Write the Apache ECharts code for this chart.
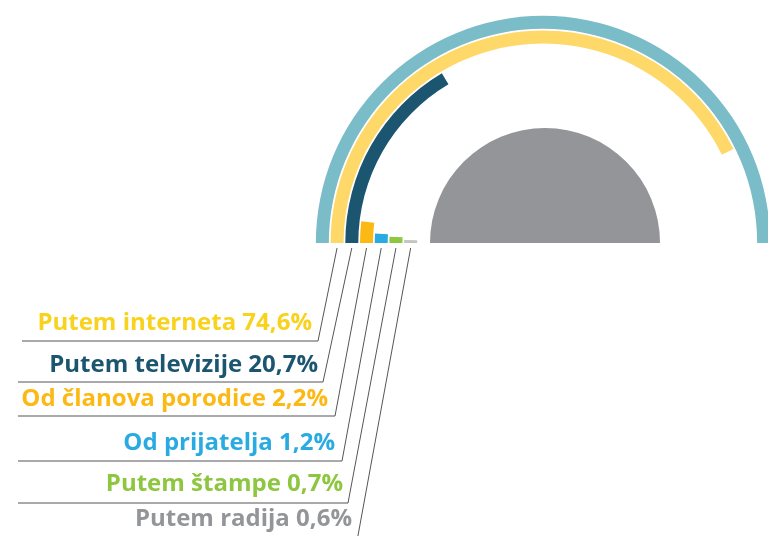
<!DOCTYPE html>
<html>
<head>
<meta charset="utf-8">
<script src="https://cdn.jsdelivr.net/npm/echarts@6/dist/echarts.min.js"></script>
<style>
  html, body { margin: 0; padding: 0; background: #fff; }
  #chart { width: 768px; height: 536px; }
</style>
</head>
<body>
<div id="chart"></div>
<script>
// izvori informisanja
var sources = ['Putem interneta', 'Putem televizije', 'Od članova porodice', 'Od prijatelja', 'Putem štampe', 'Putem radija'];
var shares = [74.6, 20.7, 2.2, 1.2, 0.7, 0.6];
// duzina luka kako je nacrtan na slici (u % polukruga)
var arcLengths = [85.4, 32.9, 3.8, 1.8, 1.3, 0.7];
var trackName = 'Ukupno';
var trackLength = 100;

var ringColors = ['#fed96a', '#1b5570', '#fdb913', '#29abe2', '#8dc63f', '#c4c4c4'];
var textColors = ['#f8d21c', '#1b5570', '#fdb913', '#29abe2', '#8dc63f', '#939598'];
var trackColor = '#7bbcc9';
var discColor = '#939598';

var cx = 543, cy = 243, r0 = 125, r1 = 228;
var fontSize = 24;
// polozaj natpisa: osnovna linija teksta, desna ivica, podvlaka
var labelPos = [
  { base: 332, right: 312, line: 341, left: 22, end: 318 },
  { base: 374, right: 318, line: 382, left: 18, end: 323 },
  { base: 408, right: 328, line: 416, left: 18, end: 335 },
  { base: 452, right: 335, line: 461, left: 18, end: 342 },
  { base: 493, right: 343, line: 503, left: 18, end: 348 },
  { base: 528, right: 352, line: 541, left: 18, end: 357 }
];

var cats = [trackName].concat(sources);
var band = (r1 - r0) / cats.length;

var barData = [{ value: trackLength, itemStyle: { color: trackColor } }];
arcLengths.forEach(function (v, i) {
  barData.push({ value: v, itemStyle: { color: ringColors[i] } });
});

var graphics = [];
sources.forEach(function (name, i) {
  var p = labelPos[i];
  var rMid = r1 - (i + 1.5) * band;
  graphics.push({
    type: 'polyline',
    silent: true,
    shape: { points: [[p.left, p.line], [p.end, p.line], [cx - rMid, cy + 5]] },
    style: { stroke: '#555', lineWidth: 1, fill: null }
  });
  graphics.push({
    type: 'text',
    silent: true,
    x: p.right,
    y: p.base - fontSize * 0.35,
    style: {
      text: name + ' ' + shares[i].toFixed(1).replace('.', ',') + '%',
      fill: textColors[i],
      font: 'bold ' + fontSize + 'px "Open Sans"',
      align: 'right',
      verticalAlign: 'middle'
    }
  });
});

var chart = echarts.init(document.getElementById('chart'));
chart.setOption({
  animation: false,
  polar: { center: [cx, cy], radius: [r0, r1] },
  angleAxis: { type: 'value', min: 0, max: 200, startAngle: 180, clockwise: true, show: false },
  radiusAxis: { type: 'category', data: cats, inverse: true, show: false },
  series: [
    {
      type: 'bar',
      coordinateSystem: 'polar',
      barWidth: 13,
      data: barData,
      silent: true
    },
    {
      type: 'pie',
      center: [545, 243],
      radius: [0, 115],
      startAngle: 180,
      clockwise: true,
      silent: true,
      label: { show: false },
      labelLine: { show: false },
      data: [
        { value: 1, itemStyle: { color: discColor } },
        { value: 1, itemStyle: { color: 'rgba(0,0,0,0)' } }
      ]
    }
  ],
  graphic: graphics
});
</script>
</body>
</html>
